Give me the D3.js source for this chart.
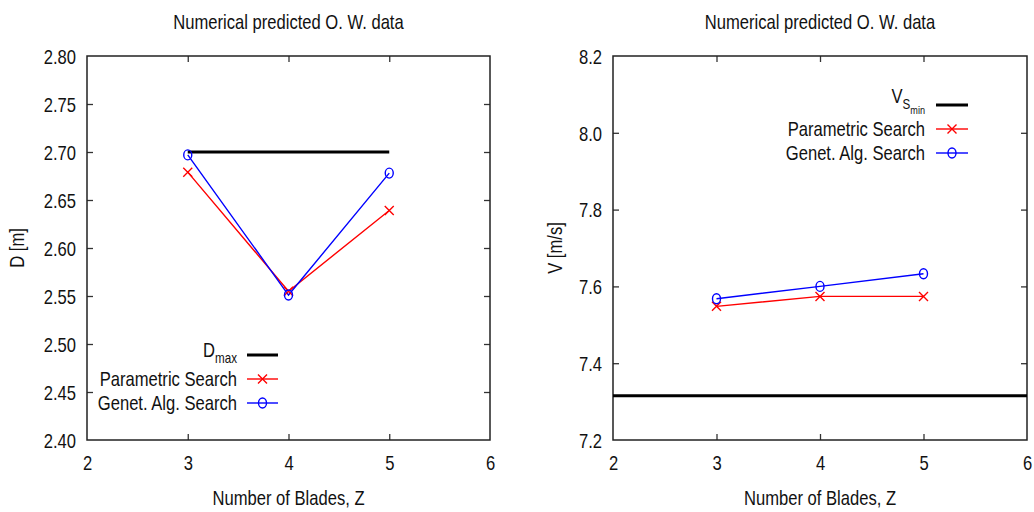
<!DOCTYPE html>
<html><head><meta charset="utf-8">
<script src="https://cdn.jsdelivr.net/npm/d3@7"></script>
<style>
body{margin:0;background:#fff;}
svg{display:block;font-family:"Liberation Sans",Arial,sans-serif;}
</style></head>
<body><svg id="c" width="1034" height="512"></svg>
<script>
// ---- data ----
const blades = [3, 4, 5];
const xTicks = [2, 3, 4, 5, 6];
const dTicks = [2.40, 2.45, 2.50, 2.55, 2.60, 2.65, 2.70, 2.75, 2.80];
const vTicks = [7.2, 7.4, 7.6, 7.8, 8.0, 8.2];
const paramD = [2.679, 2.555, 2.639];
const genetD = [2.697, 2.551, 2.678];
const dMax = 2.70;
const paramV = [7.548, 7.574, 7.574];
const genetV = [7.568, 7.600, 7.633];
const vsMin = 7.315;
const titleText = "Numerical predicted O. W. data";
const xLabel = "Number of Blades, Z";

const svg = d3.select("#c");
const SX = 0.83, FS = 20;

function ctext(g, x, y, str, anchor, rotate) {
  const t = g.append("g").attr("transform", `translate(${x},${y})` + (rotate ? ` rotate(${rotate})` : ""))
    .append("text").attr("transform", `scale(${SX},1)`)
    .attr("font-size", FS).attr("fill", "#111").attr("text-anchor", anchor || "start").text(str);
  return t;
}

function panel(cfg) {
  const g = svg.append("g");
  const x = d3.scaleLinear().domain([2, 6]).range(cfg.xr);
  const y = d3.scaleLinear().domain(cfg.ydom).range([440, 56]);
  const [x0, x1] = cfg.xr;
  // mirrored ticks
  const ax = [
    [d3.axisBottom(x).tickValues(xTicks).tickFormat(d3.format("d")), `translate(0,440)`, true],
    [d3.axisTop(x).tickValues(xTicks).tickFormat(""), `translate(0,56)`, false],
    [d3.axisLeft(y).tickValues(cfg.yTicks).tickFormat(cfg.fmt), `translate(${x0},0)`, true],
    [d3.axisRight(y).tickValues(cfg.yTicks).tickFormat(""), `translate(${x1},0)`, false]
  ];
  ax.forEach(([a, tr, lab], i) => {
    const ag = g.append("g").attr("transform", tr).call(a.tickSizeInner(-6).tickSizeOuter(0).tickPadding(i === 0 ? 17 : 11));
    ag.select(".domain").remove();
    ag.selectAll(".tick line").attr("stroke", "#333").attr("stroke-width", 1.3);
    ag.selectAll(".tick").filter(d => (i < 2 && (d === 2 || d === 6)) || (i >= 2 && (d === cfg.ydom[0] || d === cfg.ydom[1]))).select("line").remove();
    const tx = ag.selectAll("text").attr("font-size", FS).attr("font-family", "Liberation Sans, Arial, sans-serif").attr("fill", "#111");
    if (i === 0) tx.attr("transform", `scale(${SX},1)`).attr("dy", "0.35em").attr("y", 23);
    if (i === 2) tx.each(function() { const s = d3.select(this); s.attr("x", -11 / SX).attr("transform", `scale(${SX},1)`).attr("dy", "0.36em"); });
  });
  g.append("rect").attr("x", x0).attr("y", 56).attr("width", x1 - x0).attr("height", 384)
    .attr("fill", "none").attr("stroke", "#222").attr("stroke-width", 1.5);

  // titles / labels
  const cx = (x0 + x1) / 2;
  ctext(g, cx, 29, titleText, "middle");
  ctext(g, cx, 505, xLabel, "middle");
  ctext(g, cfg.ylx, 248, cfg.ylabel, "middle", -90);

  // reference line
  g.append("line").attr("x1", x(cfg.refX[0])).attr("x2", x(cfg.refX[1]))
    .attr("y1", y(cfg.ref)).attr("y2", y(cfg.ref)).attr("stroke", "#000").attr("stroke-width", 3);

  const line = d3.line().x((d, i) => x(blades[i])).y(d => y(d));
  g.append("path").datum(cfg.p).attr("d", line).attr("fill", "none").attr("stroke", "#f00").attr("stroke-width", 1.4);
  g.append("path").datum(cfg.gv).attr("d", line).attr("fill", "none").attr("stroke", "#00f").attr("stroke-width", 1.4);
  cfg.p.forEach((d, i) => cross(g, x(blades[i]), y(d)));
  cfg.gv.forEach((d, i) => circ(g, x(blades[i]), y(d)));

  // legend
  const L = cfg.leg;
  const rows = [L.y0, L.y0 + L.dy, L.y0 + 2 * L.dy];
  g.append("line").attr("x1", L.lx0).attr("x2", L.lx1).attr("y1", rows[0]).attr("y2", rows[0]).attr("stroke", "#000").attr("stroke-width", 3);
  g.append("line").attr("x1", L.lx0).attr("x2", L.lx1).attr("y1", rows[1]).attr("y2", rows[1]).attr("stroke", "#f00").attr("stroke-width", 1.4);
  g.append("line").attr("x1", L.lx0).attr("x2", L.lx1).attr("y1", rows[2]).attr("y2", rows[2]).attr("stroke", "#00f").attr("stroke-width", 1.4);
  cross(g, (L.lx0 + L.lx1) / 2, rows[1]);
  circ(g, (L.lx0 + L.lx1) / 2, rows[2]);
  ctext(g, L.tx, rows[1] + 7, "Parametric Search", "end");
  ctext(g, L.tx, rows[2] + 7, "Genet. Alg. Search", "end");
  cfg.refLabel(g, L.tx, rows[0]);
}

function cross(g, cx, cy) {
  const r = 4.5;
  g.append("path").attr("d", `M${cx - r},${cy - r}L${cx + r},${cy + r}M${cx - r},${cy + r}L${cx + r},${cy - r}`)
    .attr("stroke", "#f00").attr("stroke-width", 1.4).attr("fill", "none");
}
function circ(g, cx, cy) {
  g.append("ellipse").attr("cx", cx).attr("cy", cy).attr("rx", 4).attr("ry", 5)
    .attr("stroke", "#00f").attr("stroke-width", 1.4).attr("fill", "none");
}

panel({
  xr: [87, 490], ydom: [2.40, 2.80], yTicks: dTicks, fmt: d3.format(".2f"),
  ylabel: "D [m]", ylx: 24, ref: dMax, refX: [3, 5], p: paramD, gv: genetD,
  leg: { y0: 355, dy: 24, lx0: 247, lx1: 278, tx: 237 },
  refLabel: (g, tx, ry) => {
    const t = g.append("g").attr("transform", `translate(${tx},${ry + 2})`).append("text")
      .attr("transform", `scale(${SX},1)`).attr("font-size", FS).attr("fill", "#111").attr("text-anchor", "end");
    t.append("tspan").text("D");
    t.append("tspan").attr("font-size", 14).attr("dy", 6).text("max");
  }
});
panel({
  xr: [613, 1027], ydom: [7.2, 8.2], yTicks: vTicks, fmt: d3.format(".1f"),
  ylabel: "V [m/s]", ylx: 562, ref: vsMin, refX: [2, 6], p: paramV, gv: genetV,
  leg: { y0: 105, dy: 24, lx0: 936, lx1: 968, tx: 925 },
  refLabel: (g, tx, ry) => {
    const t = g.append("g").attr("transform", `translate(${tx},${ry - 2})`).append("text")
      .attr("transform", `scale(${SX},1)`).attr("font-size", FS).attr("fill", "#111").attr("text-anchor", "end");
    t.append("tspan").text("V");
    t.append("tspan").attr("font-size", 14).attr("dy", 6).text("S");
    t.append("tspan").attr("font-size", 11).attr("dy", 5).text("min");
  }
});
</script></body></html>
